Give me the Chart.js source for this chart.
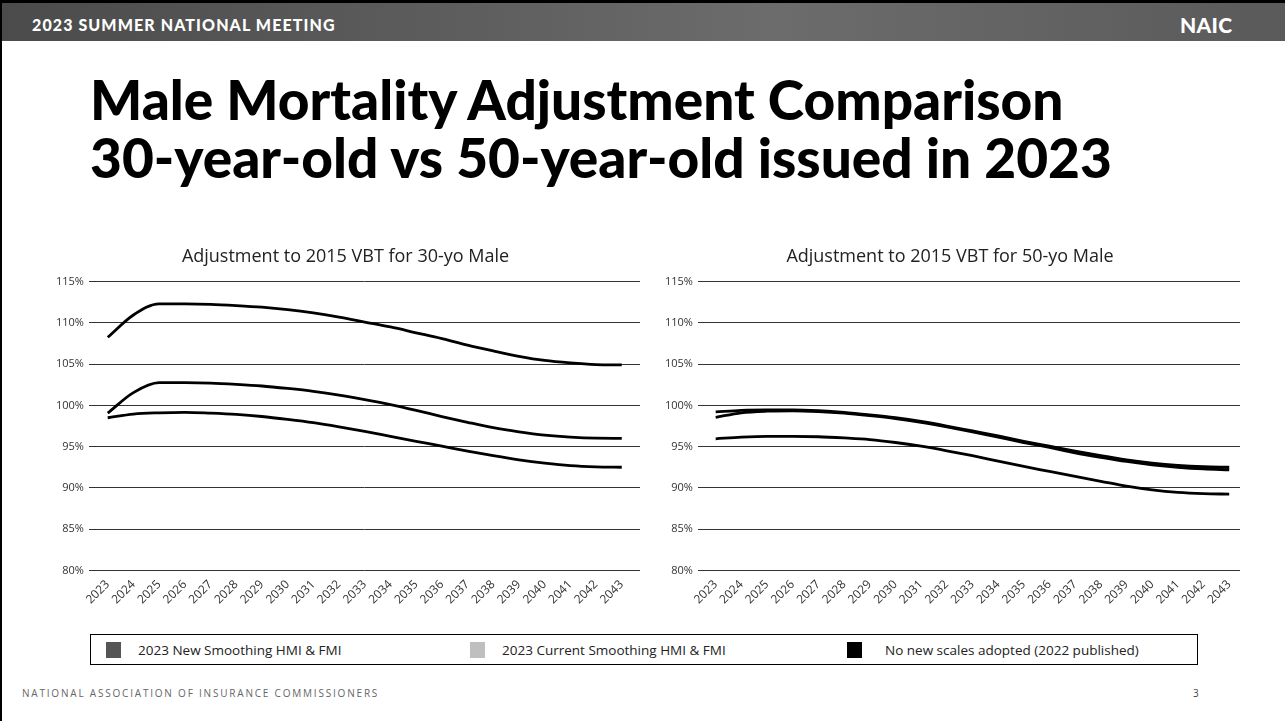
<!DOCTYPE html>
<html>
<head>
<meta charset="utf-8">
<script src="https://cdn.jsdelivr.net/npm/chart.js@4.4.1/dist/chart.umd.min.js"></script>
<style>
  html, body { margin: 0; padding: 0; background: #fff; }
  body { width: 1285px; height: 721px; position: relative; overflow: hidden; font-family: "Lato", "Open Sans", sans-serif; }
  #frame { position: absolute; left: 0; top: 0; width: 1285px; height: 721px; border-left: 2px solid #000; border-top: 3px solid #000; box-sizing: border-box; }
  #header { position: absolute; left: 2px; top: 3px; width: 1283px; height: 38px;
    background: linear-gradient(90deg, #4b4b4b 0%, #5d5d5d 35%, #6c6c6c 60%, #5a5a5a 100%); }
  #hdrText { position: absolute; left: 30px; top: 12px; color: #fff; font-family: "Lato"; font-weight: 900; font-size: 16px; letter-spacing: 1.1px; }
  #naic { position: absolute; left: 1178px; top: 9px; color: #fff; font-family: "Lato"; font-weight: 900; font-size: 21px; letter-spacing: 0.3px; }
  #title { position: absolute; left: 90px; top: 70px; font-family: "Lato"; font-weight: 900; font-size: 55px; line-height: 58px; color: #000; white-space: nowrap; }
  .chartBox { position: absolute; top: 240px; height: 374px; }
  #legend { position: absolute; left: 90px; top: 634px; width: 1108px; height: 31px; border: 1px solid #000; box-sizing: border-box; font-family: "Open Sans"; font-size: 13.5px; color: #222; }
  .lgItem { position: absolute; top: 6px; height: 18px; line-height: 18px; }
  .sw { position: absolute; left: 0; top: 1px; width: 15px; height: 16px; }
  .lgText { position: absolute; top: 0; white-space: nowrap; }
  #footer { position: absolute; left: 22px; top: 686px; font-family: "Open Sans"; font-size: 10px; letter-spacing: 1.8px; color: #666; }
  #pageNo { position: absolute; left: 1193px; top: 686px; font-family: "Open Sans"; font-size: 10px; color: #444; }
</style>
</head>
<body>
<div id="frame"></div>
<div id="header"><div id="hdrText">2023 SUMMER NATIONAL MEETING</div><div id="naic">NAIC</div></div>
<div id="title">Male Mortality Adjustment Comparison<br>30-year-old vs 50-year-old issued in 2023</div>
<div class="chartBox" style="left:44px; width:606px;"><canvas id="c30"></canvas></div>
<div class="chartBox" style="left:653px; width:597px;"><canvas id="c50"></canvas></div>
<div id="legend"></div>
<div id="footer">NATIONAL ASSOCIATION OF INSURANCE COMMISSIONERS</div>
<div id="pageNo">3</div>
<script>
// ---------- DATA ----------
const years = [2023,2024,2025,2026,2027,2028,2029,2030,2031,2032,2033,2034,2035,2036,2037,2038,2039,2040,2041,2042,2043];
const seriesNames = ["2023 New Smoothing HMI & FMI", "2023 Current Smoothing HMI & FMI", "No new scales adopted (2022 published)"];
const legendColors = ["#555555", "#bfbfbf", "#000000"];
const chartTitles = ["Adjustment to 2015 VBT for 30-yo Male", "Adjustment to 2015 VBT for 50-yo Male"];
const yTicks = [80, 85, 90, 95, 100, 105, 110, 115];

// 30-year-old male (%)
const male30New     = [108.25,110.95,112.3,112.3,112.25,112.1,111.9,111.6,111.2,110.7,110.1,109.5,108.8,108.1,107.3,106.6,105.95,105.45,105.15,104.95,104.9];
const male30Current = [99.07,101.55,102.75,102.75,102.7,102.55,102.35,102.05,101.7,101.25,100.7,100.1,99.4,98.65,97.95,97.3,96.8,96.4,96.15,96.02,96.0];
const male30NoNew   = [98.5,98.95,99.1,99.15,99.05,98.9,98.65,98.3,97.9,97.4,96.85,96.25,95.65,95.05,94.45,93.9,93.4,93.0,92.7,92.55,92.5];

// 50-year-old male (%)
const male50New     = [99.2,99.4,99.45,99.45,99.35,99.15,98.85,98.5,98.05,97.5,96.9,96.3,95.65,95.05,94.45,93.9,93.4,93.0,92.72,92.56,92.5];
const male50Current = [98.55,99.1,99.3,99.35,99.25,99.05,98.75,98.4,97.95,97.4,96.8,96.15,95.5,94.9,94.25,93.7,93.2,92.8,92.5,92.3,92.2];
const male50NoNew   = [95.95,96.15,96.25,96.25,96.2,96.05,95.85,95.5,95.05,94.5,93.9,93.25,92.6,92.0,91.4,90.8,90.2,89.75,89.45,89.3,89.25];

// ---------- LEGEND (shared, HTML) ----------
const lgLefts = [15, 379, 756];
const lgTextOffsets = [32, 32, 38];
const legendEl = document.getElementById('legend');
seriesNames.forEach((n, i) => {
  const it = document.createElement('div');
  it.className = 'lgItem';
  it.style.left = lgLefts[i] + 'px';
  it.innerHTML = '<div class="sw" style="background:' + legendColors[i] + '"></div><div class="lgText" style="left:' + lgTextOffsets[i] + 'px"></div>';
  it.querySelector('.lgText').textContent = n;
  legendEl.appendChild(it);
});

// ---------- CHARTS ----------
function pts(vals) { return years.map((yr, i) => ({ x: yr, y: vals[i] })); }

function makeChart(id, title, sets, xPadLeft, xPadRight) {
  const ctx = document.getElementById(id);
  return new Chart(ctx, {
    type: 'line',
    data: {
      datasets: sets.map((vals, i) => ({
        label: seriesNames[i],
        data: pts(vals),
        borderColor: '#000',
        backgroundColor: legendColors[i],
        borderWidth: 2.8,
        pointRadius: 0,
        cubicInterpolationMode: 'monotone',
        fill: false
      }))
    },
    options: {
      responsive: true,
      maintainAspectRatio: false,
      animation: false,
      layout: { padding: { left: 7, right: 10, top: 0, bottom: 0 } },
      plugins: {
        legend: { display: false },
        tooltip: { enabled: false },
        title: {
          display: true,
          text: title,
          color: '#222',
          font: { family: 'Open Sans', size: 18, weight: 'normal' },
          padding: { top: 6, bottom: 14 }
        }
      },
      scales: {
        x: {
          type: 'linear',
          min: years[0] - xPadLeft,
          max: years[years.length - 1] + xPadRight,
          afterBuildTicks: (scale) => { scale.ticks = years.map(v => ({ value: v })); },
          grid: { display: false, drawTicks: false },
          border: { display: false },
          ticks: {
            autoSkip: false,
            maxRotation: 45,
            minRotation: 45,
            padding: 7,
            color: '#333',
            font: { family: 'Open Sans', size: 12 },
            callback: (v) => String(v)
          }
        },
        y: {
          min: yTicks[0],
          max: yTicks[yTicks.length - 1],
          afterBuildTicks: (scale) => { scale.ticks = yTicks.map(v => ({ value: v })); },
          grid: { color: '#333', lineWidth: 1, drawTicks: false },
          border: { display: false },
          ticks: {
            padding: 5,
            color: '#333',
            font: { family: 'Open Sans', size: 11 },
            callback: (v) => v + '%'
          }
        }
      }
    }
  });
}

makeChart('c30', chartTitles[0], [male30New, male30Current, male30NoNew], 0.73, 0.71);
makeChart('c50', chartTitles[1], [male50New, male50Current, male50NoNew], 0.69, 0.42);
</script>
</body>
</html>
